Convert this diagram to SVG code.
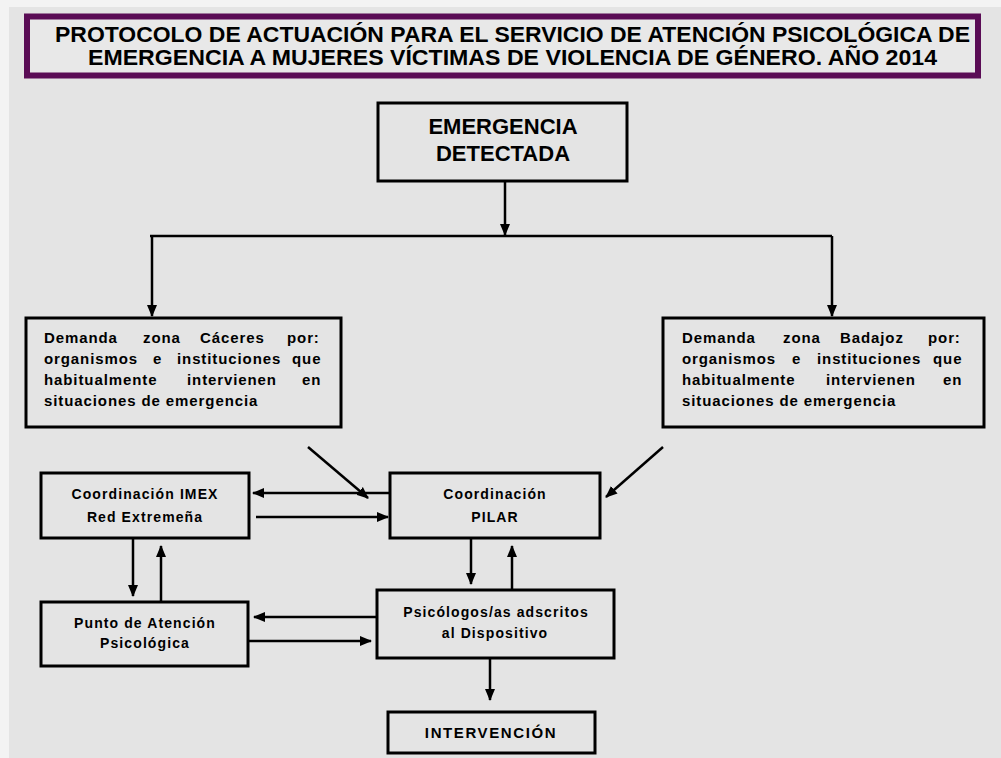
<svg xmlns="http://www.w3.org/2000/svg" width="1001" height="758" viewBox="0 0 1001 758">
<defs>
<marker id="ah" viewBox="0 0 12 10" refX="11" refY="5" markerWidth="12" markerHeight="11" markerUnits="userSpaceOnUse" orient="auto"><path d="M0,0 L12,5 L0,10 z" fill="#000"/></marker>
<style>
.box{fill:none;stroke:#000;stroke-width:3}
.con{fill:none;stroke:#000;stroke-width:2.5}
.arr{fill:none;stroke:#000;stroke-width:2.5;marker-end:url(#ah)}
.title{font-family:"Liberation Sans",Arial,sans-serif;font-weight:bold;font-size:22px;fill:#000}
.big{font-family:"Liberation Sans",Arial,sans-serif;font-weight:bold;font-size:22px;fill:#000;text-anchor:middle}
.dem{font-family:"Liberation Sans",Arial,sans-serif;font-weight:bold;font-size:15px;letter-spacing:0.9px;fill:#000}
.lbl{font-family:"Liberation Sans",Arial,sans-serif;font-weight:bold;font-size:14px;letter-spacing:1.1px;fill:#000;text-anchor:middle}
</style>
</defs>
<rect x="0" y="0" width="1001" height="758" fill="#f3f3f3"/>
<rect x="9" y="7" width="992" height="751" fill="#e4e4e4"/>

<g id="title">
<rect x="27" y="16.5" width="951" height="59" fill="#e8e8e8" stroke="#5a0c55" stroke-width="6"/>
<text class="title" x="55" y="42" textLength="915" lengthAdjust="spacingAndGlyphs">PROTOCOLO DE ACTUACIÓN PARA EL SERVICIO DE ATENCIÓN PSICOLÓGICA DE</text>
<text class="title" x="88" y="65" textLength="849" lengthAdjust="spacingAndGlyphs">EMERGENCIA A MUJERES VÍCTIMAS DE VIOLENCIA DE GÉNERO. AÑO 2014</text>
</g>

<g id="emergencia">
<rect class="box" x="378" y="103" width="249" height="78"/>
<text class="big" x="503" y="134">EMERGENCIA</text>
<text class="big" x="503" y="161">DETECTADA</text>
</g>

<g id="caceres">
<rect class="box" x="26" y="318" width="315" height="109"/>
<text class="dem" y="343"><tspan x="44">Demanda</tspan><tspan x="143">zona</tspan><tspan x="200">Cáceres</tspan><tspan x="287">por:</tspan></text>
<text class="dem" y="364"><tspan x="44">organismos</tspan><tspan x="153">e</tspan><tspan x="177">instituciones</tspan><tspan x="292">que</tspan></text>
<text class="dem" y="385"><tspan x="44">habitualmente</tspan><tspan x="187">intervienen</tspan><tspan x="302">en</tspan></text>
<text class="dem" x="44" y="406">situaciones de emergencia</text>
</g>

<g id="badajoz">
<rect class="box" x="663" y="318" width="321" height="109"/>
<text class="dem" y="343"><tspan x="682">Demanda</tspan><tspan x="783">zona</tspan><tspan x="840">Badajoz</tspan><tspan x="928">por:</tspan></text>
<text class="dem" y="364"><tspan x="682">organismos</tspan><tspan x="792">e</tspan><tspan x="817">instituciones</tspan><tspan x="933">que</tspan></text>
<text class="dem" y="385"><tspan x="682">habitualmente</tspan><tspan x="826">intervienen</tspan><tspan x="943">en</tspan></text>
<text class="dem" x="682" y="406">situaciones de emergencia</text>
</g>

<g id="imex">
<rect class="box" x="41" y="473" width="208" height="65"/>
<text class="lbl" x="145" y="499">Coordinación IMEX</text>
<text class="lbl" x="145" y="522">Red Extremeña</text>
</g>

<g id="pilar">
<rect class="box" x="390" y="473" width="210" height="65"/>
<text class="lbl" x="495" y="499">Coordinación</text>
<text class="lbl" x="495" y="522">PILAR</text>
</g>

<g id="punto">
<rect class="box" x="41" y="602" width="207" height="64"/>
<text class="lbl" x="145" y="628">Punto de Atención</text>
<text class="lbl" x="145" y="648">Psicológica</text>
</g>

<g id="psicologos">
<rect class="box" x="377" y="590" width="237" height="68"/>
<text class="lbl" x="496" y="617">Psicólogos/as adscritos</text>
<text class="lbl" x="495" y="638">al Dispositivo</text>
</g>

<g id="intervencion">
<rect class="box" x="388" y="712" width="207" height="41"/>
<text class="lbl" x="491" y="738" style="font-size:15px;letter-spacing:1.6px">INTERVENCIÓN</text>
</g>

<g id="connectors">
<line class="arr" x1="505" y1="181" x2="505" y2="235"/>
<line class="con" x1="150" y1="236" x2="832" y2="236"/>
<line class="arr" x1="152" y1="236" x2="152" y2="316"/>
<line class="arr" x1="832" y1="236" x2="832" y2="316"/>
<line class="arr" x1="308" y1="447" x2="368" y2="498"/>
<line class="arr" x1="663" y1="447" x2="606" y2="497"/>
<line class="arr" x1="390" y1="493" x2="253" y2="493"/>
<line class="arr" x1="256" y1="517" x2="388" y2="517"/>
<line class="arr" x1="471" y1="538" x2="471" y2="584"/>
<line class="arr" x1="512" y1="590" x2="512" y2="546"/>
<line class="arr" x1="133" y1="538" x2="133" y2="596"/>
<line class="arr" x1="161" y1="602" x2="161" y2="546"/>
<line class="arr" x1="377" y1="617" x2="254" y2="617"/>
<line class="arr" x1="248" y1="641" x2="371" y2="641"/>
<line class="arr" x1="490" y1="658" x2="490" y2="700"/>
</g>
</svg>
